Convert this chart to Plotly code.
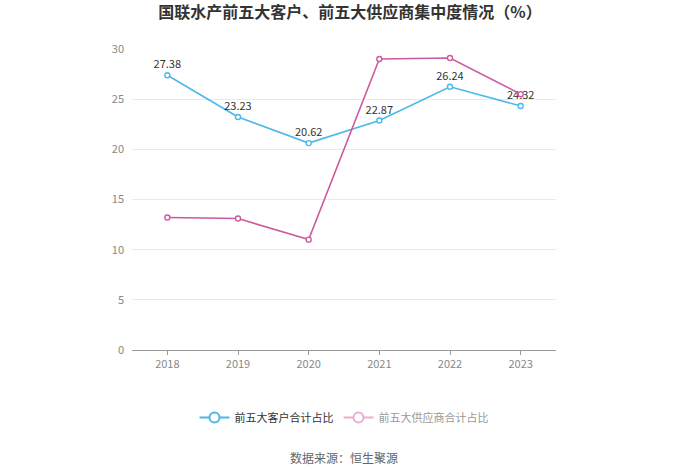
import plotly.graph_objects as go

years = ["2018", "2019", "2020", "2021", "2022", "2023"]
customers = [27.38, 23.23, 20.62, 22.87, 26.24, 24.32]
suppliers = [13.2, 13.1, 11.0, 29.0, 29.1, 25.5]

blue = "#4BB8EA"
pink = "#CC5A9E"
pink_faded = "#E9AED2"
font = "Noto Sans CJK SC"

fig = go.Figure()

fig.add_trace(go.Scatter(
    x=years, y=customers,
    name="前五大客户合计占比",
    mode="lines+markers+text",
    text=[f"{v:.2f}" for v in customers],
    textposition="top center",
    textfont={"size": 11, "color": "#333333"},
    line={"color": blue, "width": 1.6},
    marker={"symbol": "circle", "size": 5, "color": "white",
            "line": {"color": blue, "width": 1.4}},
    showlegend=False,
))

fig.add_trace(go.Scatter(
    x=years, y=suppliers,
    name="前五大供应商合计占比",
    mode="lines+markers",
    line={"color": pink, "width": 1.6},
    marker={"symbol": "circle", "size": 5, "color": "white",
            "line": {"color": pink, "width": 1.4}},
    showlegend=False,
))

# legend-only entries (bigger symbol, faded second item like the reference)
for label, col, txt in [("前五大客户合计占比", blue, "#333333"),
                        ("前五大供应商合计占比", pink_faded, "#999999")]:
    fig.add_trace(go.Scatter(
        x=[None], y=[None],
        name=f"<span style='color:{txt}'>{label}</span>",
        mode="lines+markers",
        line={"color": col, "width": 2},
        marker={"symbol": "circle", "size": 10, "color": "white",
                "line": {"color": col, "width": 2}},
    ))

fig.update_layout(
    width=700, height=474,
    paper_bgcolor="white",
    plot_bgcolor="white",
    font={"family": font, "color": "#666666"},
    title={
        "text": "<b>国联水产前五大客户、前五大供应商集中度情况（%）</b>",
        "x": 0.5, "xanchor": "center",
        "y": 0.985, "yanchor": "top",
        "font": {"size": 16, "color": "#333333", "family": font},
    },
    margin={"l": 132, "r": 144, "t": 49, "b": 124},
    xaxis={
        "type": "category",
        "showgrid": False,
        "showline": True,
        "linecolor": "#999999",
        "linewidth": 1,
        "ticks": "outside",
        "ticklen": 4,
        "tickcolor": "#999999",
        "tickfont": {"size": 11, "color": "#888888"},
        "range": [-0.5, 5.5],
    },
    yaxis={
        "range": [0, 30],
        "dtick": 5,
        "showgrid": True,
        "gridcolor": "#E9E9EE",
        "zeroline": False,
        "showline": False,
        "tickfont": {"size": 11, "color": "#888888"},
        "ticklabelstandoff": 7,
    },
    showlegend=True,
    legend={
        "orientation": "h",
        "x": 0.5, "xanchor": "center",
        "y": -0.176, "yanchor": "top",
        "itemwidth": 30,
        "font": {"size": 11, "color": "#333333"},
    },
    annotations=[{
        "text": "数据来源：恒生聚源",
        "xref": "paper", "yref": "paper",
        "x": 0.5, "xanchor": "center",
        "y": -0.322, "yanchor": "top",
        "showarrow": False,
        "font": {"size": 12, "color": "#666666"},
    }],
)

# the page keeps the browser's 8px body margin otherwise
fig.write_html("out.html", config={"displayModeBar": False},
               post_script="document.body.style.margin='0';")
